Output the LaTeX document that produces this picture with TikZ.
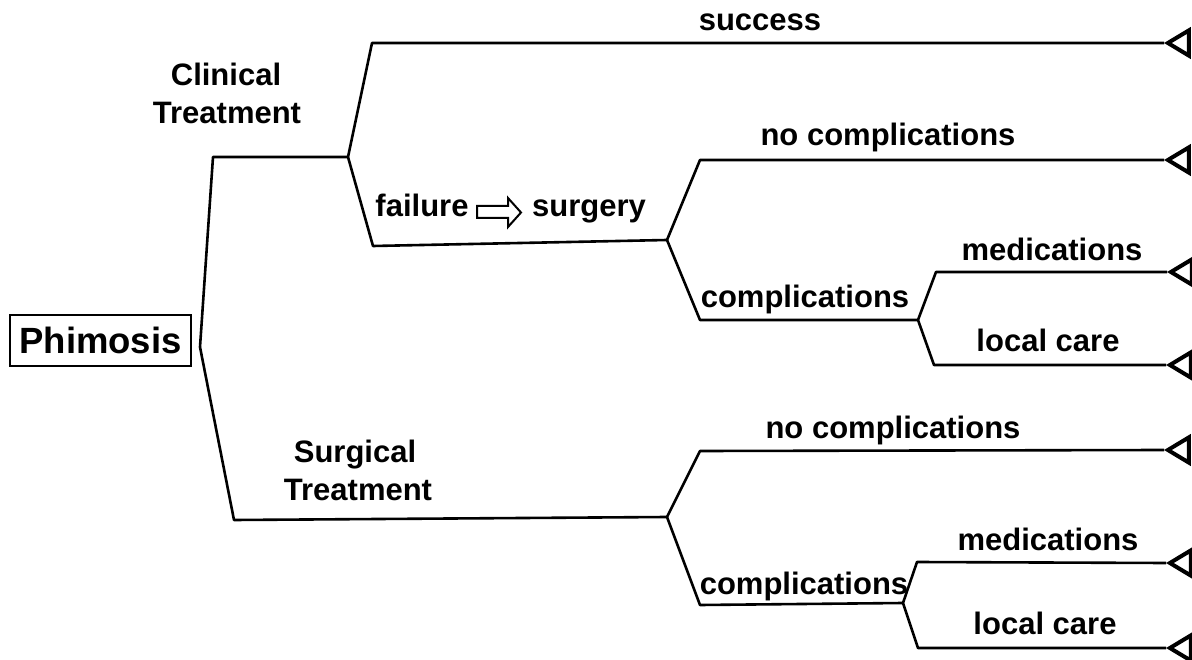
\documentclass[tikz,border=0pt]{standalone}
\usepackage{fontspec}
\setmainfont{Liberation Sans}
\usetikzlibrary{shapes.geometric}
\begin{document}
\begin{tikzpicture}[x=1pt,y=-1pt,
  branch/.style={line width=2.6pt, line join=round},
  lbl/.style={font=\bfseries\fontsize{31}{37}\selectfont, anchor=base, inner sep=0pt},
  term/.style={draw, line width=4pt, isosceles triangle, shape border rotate=180,
    isosceles triangle apex angle=62, minimum height=21pt, inner sep=0pt, anchor=apex, fill=white}]
\useasboundingbox (0,0) rectangle (1192,660);
% root
\node[draw, line width=2.4pt, minimum width=181pt, minimum height=51pt, inner sep=0pt,
  font=\bfseries\fontsize{36.5}{42}\selectfont] (root) at (100.5,340.5) {Phimosis};
\coordinate (r) at (200,347);
\coordinate (c) at (348,157);
\coordinate (s1) at (667,240);
\coordinate (k1) at (918,320);
\coordinate (s2) at (667,517);
\coordinate (k2) at (903,603);
% terminals
\node[term] (t1) at (1164,43) {};
\node[term] (t2) at (1164,160) {};
\node[term] (t3) at (1167,272) {};
\node[term] (t4) at (1166,365) {};
\node[term] (t5) at (1164,450) {};
\node[term] (t6) at (1166,563) {};
\node[term] (t7) at (1166,648) {};
% branches
\draw[branch] (r) -- (213,157) -- (c);
\draw[branch] (r) -- (234,520) -- (s2);
\draw[branch] (c) -- (372,43) -- (t1.apex);
\draw[branch] (c) -- (373,246) -- (s1);
\draw[branch] (s1) -- (700,160) -- (t2.apex);
\draw[branch] (s1) -- (700,320) -- (k1);
\draw[branch] (k1) -- (936,272) -- (t3.apex);
\draw[branch] (k1) -- (934,365) -- (t4.apex);
\draw[branch] (s2) -- (700,451) -- (t5.apex);
\draw[branch] (s2) -- (700,605) -- (k2);
\draw[branch] (k2) -- (917,562) -- (t6.apex);
\draw[branch] (k2) -- (918,648) -- (t7.apex);
% labels
\node[lbl] (l1) at (760,31) {success};
\node[lbl] (l2) at (226,86) {Clinical};
\node[lbl] (l3) at (227,124) {Treatment};
\node[lbl] (l4) at (888,146) {no complications};
\node[lbl] (l5) at (422,217) {failure};
\node[lbl] (l6) at (589,217) {surgery};
\draw[line width=2pt, line join=miter] (477,206) -- (508,206) -- (508,198) -- (521,212.5) -- (508,227) -- (508,218) -- (477,218) -- cycle;
\node[lbl] (l7) at (805,308) {complications};
\node[lbl] (l8) at (1052,261) {medications};
\node[lbl] (l9) at (1048,352) {local care};
\node[lbl] (l10) at (355,462) {Surgical};
\node[lbl] (l11) at (358,500) {Treatment};
\node[lbl] (l12) at (893,438) {no complications};
\node[lbl] (l13) at (804,594) {complications};
\node[lbl] (l14) at (1048,550) {medications};
\node[lbl] (l15) at (1045,634) {local care};
\end{tikzpicture}
\end{document}
